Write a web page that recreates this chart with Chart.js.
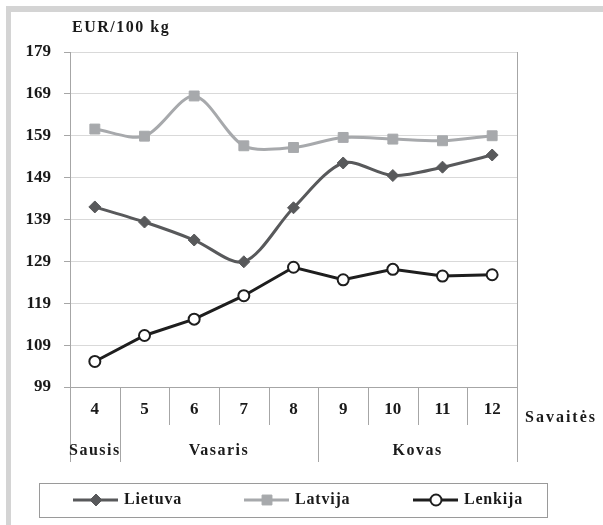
<!DOCTYPE html>
<html>
<head>
<meta charset="utf-8">
<script src="https://cdn.jsdelivr.net/npm/chart.js@4"></script>
<style>
  body { margin: 0; background: #fff; }
  canvas { display: block; }
</style>
</head>
<body>
<canvas id="priceChart" width="603" height="525"></canvas>
<script>
// savaitės (weeks) and months
const weeks = ['4', '5', '6', '7', '8', '9', '10', '11', '12'];
const months = ['Sausis', 'Vasaris', 'Kovas'];
const monthFirstWeek = [0, 1, 5];
const monthLastWeek = [0, 4, 8];

// EUR/100 kg
const lietuva = [142.0, 138.4, 134.1, 128.9, 141.8, 152.5, 149.5, 151.5, 154.4];
const latvija = [160.6, 158.9, 168.5, 156.6, 156.2, 158.6, 158.2, 157.8, 159.0];
const lenkija = [105.1, 111.3, 115.2, 120.8, 127.6, 124.6, 127.1, 125.5, 125.8];

const yTicks = [99, 109, 119, 129, 139, 149, 159, 169, 179];

const serif = '"Liberation Serif", "Times New Roman", serif';
const axisColor = '#a6a6a6';

// extra drawing: title, dividers under the x axis, month names, legend box, page frame
const decorations = {
    id: 'decorations',
    afterDraw(chart) {
        const ctx = chart.ctx;
        const area = chart.chartArea;
        const xs = chart.scales.x;
        ctx.save();

        // page frame (top and left)
        ctx.fillStyle = '#d4d4d4';
        ctx.fillRect(6, 6, 597, 6);
        ctx.fillRect(6, 6, 5, 519);

        // unit title
        ctx.fillStyle = '#1a1a1a';
        ctx.font = 'bold 16px ' + serif;
        ctx.letterSpacing = '1.5px';
        ctx.textBaseline = 'middle';
        ctx.textAlign = 'left';
        ctx.fillText('EUR/100 kg', 72, 28);

        // category dividers below the axis
        const edge = (i) => {
            if (i <= 0) return area.left;
            if (i >= weeks.length) return area.right;
            return (xs.getPixelForValue(i - 1) + xs.getPixelForValue(i)) / 2;
        };
        ctx.strokeStyle = axisColor;
        ctx.lineWidth = 1;
        for (let i = 0; i <= weeks.length; i++) {
            const x = Math.round(edge(i)) + 0.5;
            const isMonthEdge = i === 0 || i === weeks.length || monthFirstWeek.includes(i);
            ctx.beginPath();
            ctx.moveTo(x, area.bottom);
            ctx.lineTo(x, area.bottom + (isMonthEdge ? 75 : 38));
            ctx.stroke();
        }
        // right frame of the plot
        ctx.beginPath();
        ctx.moveTo(Math.round(area.right) + 0.5, area.top);
        ctx.lineTo(Math.round(area.right) + 0.5, area.bottom);
        ctx.stroke();

        // month names
        ctx.fillStyle = '#1a1a1a';
        ctx.textAlign = 'center';
        months.forEach((m, k) => {
            const cx = (xs.getPixelForValue(monthFirstWeek[k]) + xs.getPixelForValue(monthLastWeek[k])) / 2;
            ctx.fillText(m, cx, area.bottom + 64);
        });

        // axis name
        ctx.textAlign = 'left';
        ctx.letterSpacing = '2px';
        ctx.fillText('Savaitės', area.right + 8, area.bottom + 31);

        // legend
        ctx.letterSpacing = '0.8px';
        ctx.strokeStyle = '#9a9a9a';
        ctx.strokeRect(39.5, 483.5, 508, 34);
        const legendX = [73, 244, 413];
        chart.data.datasets.forEach((ds, i) => {
            const x0 = legendX[i];
            const y0 = 500;
            ctx.strokeStyle = ds.borderColor;
            ctx.lineWidth = ds.borderWidth;
            ctx.beginPath();
            ctx.moveTo(x0, y0);
            ctx.lineTo(x0 + 45, y0);
            ctx.stroke();
            ctx.fillStyle = ds.pointBackgroundColor;
            ctx.strokeStyle = ds.pointBorderColor;
            ctx.lineWidth = ds.pointBorderWidth;
            Chart.helpers.drawPoint(ctx, {
                pointStyle: ds.pointStyle,
                radius: ds.pointRadius,
                borderWidth: ds.pointBorderWidth,
                rotation: 0
            }, x0 + 23, y0);
            ctx.fillStyle = '#1a1a1a';
            ctx.textAlign = 'left';
            ctx.fillText(ds.label, x0 + 51, y0);
        });

        ctx.restore();
    }
};

new Chart(document.getElementById('priceChart'), {
    type: 'line',
    data: {
        labels: weeks,
        datasets: [
            {
                label: 'Lietuva',
                data: lietuva,
                borderColor: '#58595b',
                borderWidth: 3,
                tension: 0.3,
                pointStyle: 'rectRot',
                pointRadius: 6,
                pointBackgroundColor: '#58595b',
                pointBorderColor: '#58595b',
                pointBorderWidth: 1
            },
            {
                label: 'Latvija',
                data: latvija,
                borderColor: '#a7a9ac',
                borderWidth: 3,
                tension: 0.3,
                pointStyle: 'rect',
                pointRadius: 7,
                pointBackgroundColor: '#a7a9ac',
                pointBorderColor: '#a7a9ac',
                pointBorderWidth: 1
            },
            {
                label: 'Lenkija',
                data: lenkija,
                borderColor: '#1e1e1e',
                borderWidth: 3,
                tension: 0,
                pointStyle: 'circle',
                pointRadius: 5.5,
                pointBackgroundColor: '#ffffff',
                pointBorderColor: '#1e1e1e',
                pointBorderWidth: 2
            }
        ]
    },
    options: {
        responsive: false,
        animation: false,
        layout: { padding: { left: 12, right: 86, top: 52, bottom: 0 } },
        plugins: {
            legend: { display: false },
            tooltip: { enabled: false }
        },
        scales: {
            x: {
                offset: true,
                grid: { display: false, drawTicks: false },
                border: { color: axisColor },
                ticks: {
                    padding: 12,
                    color: '#1a1a1a',
                    font: { family: serif, size: 17, weight: 'bold' }
                },
                afterFit(scale) { scale.height = 138; }
            },
            y: {
                min: 99,
                max: 179,
                afterBuildTicks(scale) { scale.ticks = yTicks.map(v => ({ value: v })); },
                grid: { color: '#d9d9d9', tickLength: 6, tickColor: axisColor },
                border: { color: axisColor },
                ticks: {
                    padding: 13,
                    color: '#1a1a1a',
                    font: { family: serif, size: 17, weight: 'bold' }
                },
                afterFit(scale) { scale.width = 58; }
            }
        }
    },
    plugins: [decorations]
});
</script>
</body>
</html>
